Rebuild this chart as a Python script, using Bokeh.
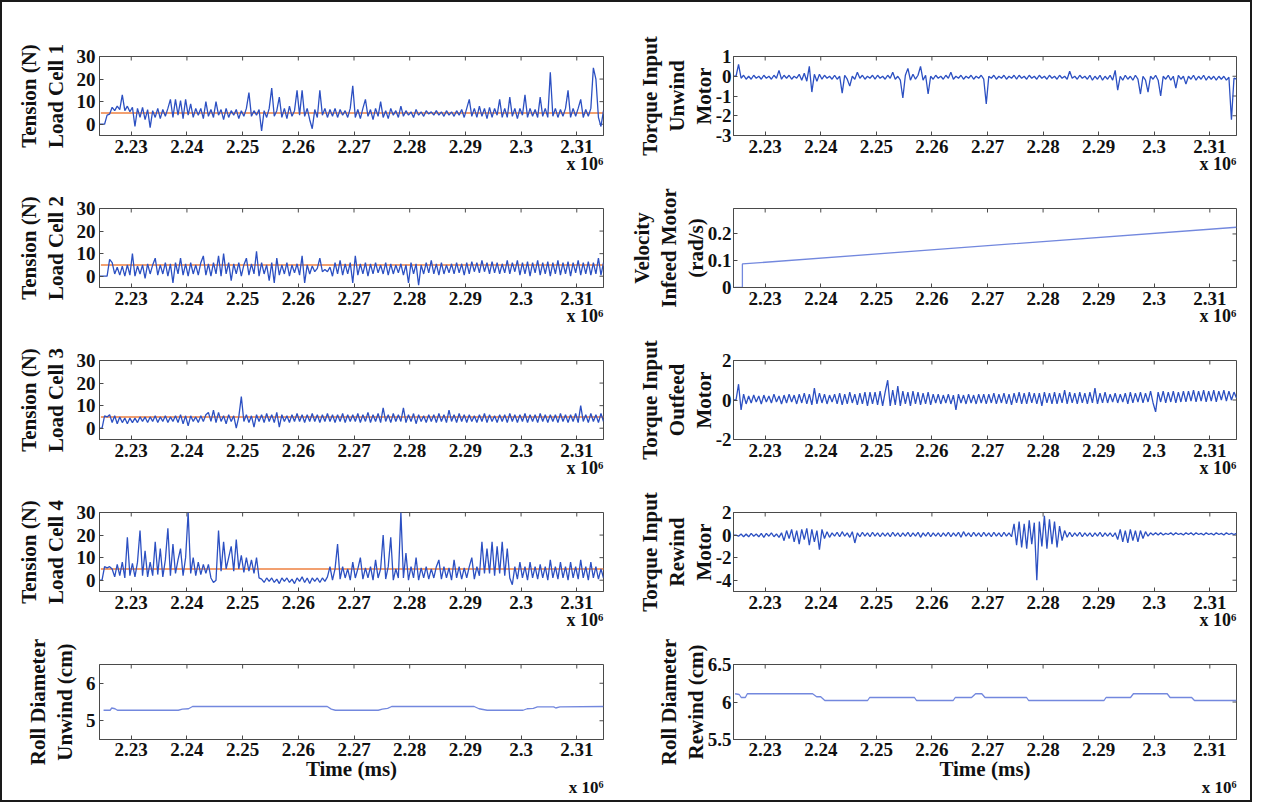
import numpy as np
from bokeh.plotting import figure
from bokeh.layouts import row, column
from bokeh.models import Range1d, FixedTicker, Title
from bokeh.embed import file_html
from bokeh.resources import INLINE

# ---------------- data ----------------
T0, T1 = 2.2243, 2.3148          # time axis limits (x 10^6 ms)
x_ticks = [2.23, 2.24, 2.25, 2.26, 2.27, 2.28, 2.29, 2.30, 2.31]
x_tick_labels = ["2.23", "2.24", "2.25", "2.26", "2.27", "2.28", "2.29", "2.3", "2.31"]

load_cell_1 = [
    0, 0, 0, 4, 4.5, 7.5, 6, 8, 6.5, 13, 6, 8, 5.5, 7.5, -1, 7, 3, 7.5, 2, 6.5,
    -1.5, 6, 3, 7, 2.5, 6.5, 3.5, 7, 11, 3, 11, 4, 10.5, 2.5, 11, 4, 9, 3, 7, 4,
    7, 2.5, 10, 3.5, 6.5, 3, 10, 4, 6.5, 2, 7, 3, 6, 4, 6.5, 2.5, 6, 3.5, 7, 14,
    3.5, 6, 4, 6.5, -3, 6, 3, 7, 16, 3.5, 6, 12, 3, 7, 2.5, 8, 3.5, 6, 15, 4,
    15, 3.5, 7, 2, -2, 6.5, 3, 15, 4, 7, 3, 6.5, 3.5, 7, 3, 6.5, 4, 6, 3, 7,
    17, 3, 6.5, 2.5, 7, 11, 3.5, 6.5, 2, 7, 3.5, 10, 3, 6, 2.5, 7, 4, 6, 3, 8,
    3.5, 6, 4, 5.5, 3, 6.5, 4, 5.5, 3.5, 6, 4.5, 5.5, 4, 6, 4, 5.5, 3.5, 6, 4, 5.5,
    3.5, 6, 4, 6.5, 3, 7, 11, 3.5, 7, 3, 8, 3.5, 7, 2.5, 7.5, 3, 7, 4, 11, 3,
    7, 3, 12, 3.5, 7, 2.5, 7, 4, 13, 3, 7, 3.5, 6.5, 3, 12, 3.5, 7, 3, 23, 3.5,
    7, 3, 6.5, 3.5, 7, 15, 3, 7, 3.5, 7, 11, 3, 6.5, 3.5, 7, 25, 20, 3, -1, 6,
]
load_cell_2 = [
    0, 0, 0, 0, 7.5, 6, 1, 4, 0.5, 4.5, 0, 5, 0.5, 10, 0, 4.5, 1, 5, -1, 5.5,
    1, 5, 8, 0.5, 5, 1, 6, 0, 5.5, -3, 6, 1, 8, 0.5, 5.5, 0, 6, 1, 5, 0.5,
    6, 9, 0.5, 5.5, 0, 6, 1, 9, 0, 10, 1, 6, -2, 5.5, 1, 6, 0, 5, 8, 0.5,
    5.5, 1, 11, 0, 6, 1, 5, -2, 6, -3, 8, 0.5, 5, 1, 6, 0, 5, 1.5, 5.5, 0.5,
    9, -3, 5, 1, 4.5, 2, 3.5, 8, 2, 3, 2, 4, 0, 6, 1, 7, 0.5, 5.5, 1, 6,
    -3, 9, 0.5, 5.5, 1, 6, 0, 5.5, 1, 6, 1.5, 5, 1, 6, 0.5, 5.5, 1, 5, 1.5, 5.5,
    0.5, 5, -3, 6, 1, 5.5, -4, 5, 1, 6, 1.5, 7, 1, 5.5, 0.5, 6, 1, 5, 1.5, 5.5,
    1, 6, 1.5, 5.5, 0.5, 6, 1, 6.5, 2, 6, 1.5, 7, 2, 6, 1, 6.5, 1.5, 6, 1, 5.5,
    1.5, 7, 1, 6, 2, 7, 0.5, 6, 1, 6.5, 0, 6, 1.5, 7, 0.5, 6, 1, 6.5, 0, 6,
    1, 7, 0.5, 6, 1, 6.5, 0, 6, 1.5, 7, 0.5, 6, 1, 6.5, 0.5, 6, 1, 8, 0.5, 6,
]
load_cell_3 = [
    0, 0, 5.5, 5, 6, 2.5, 5.5, 2, 5, 2.5, 4.5, 2, 4.5, 2.5, 4.5, 2.5, 5, 3, 5, 2.5,
    5, 3, 5.5, 2.5, 5, 3, 5.5, 2.5, 5, 3, 5.5, 2.5, 6, 2, 5.5, 1, 5.5, 3, 5, 2.5,
    5.5, 3, 6, 7, 3, 8, 2.5, 7, 3, 5.5, 2, 6, 3, 5.5, 0, 5, 14, 3, 6, 2.5,
    5.5, 0.5, 6, 3, 6, 2.5, 6.5, 3, 6, 2.5, 7, 0.5, 6, 3, 5.5, 2.5, 6, 3, 6.5, 3,
    6, 2.5, 6, 3, 6.5, 3, 6, 2.5, 6, 3, 6.5, 3, 6, 2.5, 6, 3, 6.5, 2.5, 6, 3,
    6, 3, 6.5, 2.5, 6, 3, 7, 2.5, 6, 3, 6.5, 2.5, 9, 3, 6, 2.5, 6.5, 3, 6, 3,
    9, 2.5, 6, 3, 6.5, 2, 6, 3, 5.5, 2.5, 6, 3, 6, 2.5, 6.5, 3, 6, 2.5, 8, 3,
    6, 2.5, 6.5, 3, 6, 2.5, 6, 3, 5.5, 2.5, 6, 3, 6.5, 2.5, 6, 3, 5.5, 2.5, 6, 3,
    6, 2.5, 6.5, 3, 6, 2.5, 6, 3, 6.5, 2.5, 6, 3, 6, 2.5, 6.5, 3, 6, 2.5, 6, 3,
    6, 2.5, 6.5, 3, 6, 2.5, 6, 3, 6.5, 2.5, 10, 3, 6, 2.5, 6.5, 3, 6, 2.5, 6.5, 3,
]
load_cell_4 = [
    0, 0, 6, 5.5, 6, 5, 1.5, 7, 2, 8, 1, 19, 2, 7.5, 1.5, 8, 22, 2, 13, 1.5,
    8, 2, 17, 2.5, 14, 1.5, 9, 23, 2, 16, 3, 9, 14, 2, 10, 30, 3, 10, 2, 8,
    2.5, 7, 3, 7, 1, -1, 0, 22, 4, 17, 5, 10, 15, 4, 18, 5, 11, 3.5, 10, 4,
    9, 3, 10, 1, 0.5, -1, 1, -0.5, 1, -1, 0.5, -1.5, 1, -0.5, 1, -1, 0.5, -1.5, 1, -0.5,
    1.5, -1, 1, -1.5, 1, -0.5, 1, -1, 1, -0.5, 1.5, 6, 0, 5, 16, 0.5, 6, 1, 5, 0,
    8, 1, 5, 10, 0.5, 5.5, 1, 6, 0, 9, 1, 5, 20, 0.5, 6, 19, 0, 5, 1, 30,
    1, 12, 0, 6, 1, 10, 0, 5.5, 1, 6, 0.5, 5, 1, 6, 9, 0.5, 6, 1, 5.5, 0,
    9, 1, 6, 0.5, 5.5, 1, 6, 10, 0.5, 6, 2, 17, 3, 14, 3, 17, 2, 15, 3, 17,
    2, 14, 1, -2, 6, 0.5, 8, 1, 6, 0, 8, 1, 6, 0.5, 7, 1, 6, 0, 9, 1,
    6, 0.5, 8, 1, 6, 0, 8, 1, 6, 0.5, 9, 1, 6, 0, 8, 1, 6, 0.5, 5, 1,
]
tension_setpoint = [5.0, 5.0]
setpoint_t = [2.22455, 2.3148]

torque_unwind = [
    0, 0, 0.6, -0.1, 0.05, -0.15, 0, -0.15, 0.05, -0.1, 0, -0.15, 0.05, -0.1, 0, -0.15, 0.05, -0.1, 0.3, -0.15,
    0.05, -0.1, 0.05, -0.15, 0, -0.1, 0.1, -0.2, 0.15, -0.25, 0.5, -0.8, 0.1, -0.25, 0.1, -0.15, 0.05, -0.1, 0, -0.15,
    0.05, -0.15, 0, -0.85, 0.05, -0.15, -0.5, 0, -0.15, 0.2, -0.1, 0.05, -0.15, 0, -0.1, 0.05, -0.15, 0.05, -0.1, 0,
    -0.15, 0.05, -0.1, 0.2, -0.15, 0, -0.2, -1.1, 0.05, 0.4, -0.2, 0.1, -0.15, 0.05, 0.5, -0.2, 0.05, -0.9, 0, -0.15,
    0.05, -0.1, 0, -0.15, 0.05, -0.1, 0.2, -0.15, 0, -0.1, 0.05, -0.15, 0, -0.1, 0.05, -0.15, 0, -0.1, 0.05, -0.15,
    -1.4, 0, -0.1, 0.05, -0.15, 0, -0.1, 0.05, -0.15, 0, -0.1, 0.05, -0.15, 0.05, -0.1, 0, -0.15, 0.05, -0.1, 0,
    -0.15, 0.05, -0.1, 0, -0.15, 0.05, -0.1, 0, -0.15, 0.05, -0.1, 0, -0.15, 0.25, -0.1, 0, -0.15, 0.05, -0.1, 0,
    -0.15, 0.05, -0.2, 0, -0.15, 0.05, -0.2, 0, -0.15, 0.05, -0.2, 0.3, -0.7, 0, -0.2, 0.05, -0.15, 0, -0.2, 0.05,
    -0.15, -0.9, 0, -0.2, -0.8, 0, -0.15, 0.05, -0.2, -1.0, 0, -0.15, 0.05, -0.2, 0, -0.6, 0.05, -0.15, 0, -0.4,
    0, -0.15, 0.05, -0.2, 0, -0.15, 0.05, -0.2, 0, -0.15, 0, -0.2, 0, -0.15, 0, -0.2, -0.05, -2.2, -0.1, -0.15,
]
velocity_t = [2.2245, 2.2259, 2.2259, 2.3148]
velocity_infeed = [0.0, 0.0, 0.088, 0.225]

torque_outfeed = [
    0, 0, 0.8, -0.5, 0.3, -0.2, 0.2, -0.15, 0.25, -0.1, 0.2, -0.2, 0.25, -0.1, 0.2, -0.15, 0.3, -0.1, 0.2, -0.2,
    0.25, -0.15, 0.3, -0.1, 0.25, -0.2, 0.3, -0.15, 0.35, -0.2, 0.3, -0.25, 0.6, -0.2, 0.35, -0.15, 0.3, -0.2, 0.25, -0.1,
    0.3, -0.2, 0.35, -0.25, 0.3, -0.2, 0.4, -0.15, 0.3, -0.25, 0.35, -0.2, 0.4, -0.3, 0.4, -0.2, 0.4, -0.25, 0.45, -0.3,
    0.4, 1.0, -0.3, 0.5, -0.25, 0.7, -0.3, 0.45, -0.2, 0.4, -0.3, 0.45, -0.2, 0.4, -0.25, 0.35, -0.2, 0.4, -0.25, 0.3,
    -0.15, 0.3, -0.2, 0.25, -0.15, 0.3, -0.2, 0.25, -0.5, 0.3, -0.15, 0.25, -0.2, 0.3, -0.15, 0.25, -0.2, 0.3, -0.15, 0.3,
    -0.2, 0.3, -0.15, 0.35, -0.2, 0.3, -0.15, 0.35, -0.2, 0.3, -0.25, 0.35, -0.15, 0.4, -0.2, 0.35, -0.2, 0.4, -0.15, 0.35,
    -0.2, 0.35, -0.3, 0.4, -0.15, 0.35, -0.2, 0.4, -0.2, 0.35, -0.15, 0.5, -0.2, 0.4, -0.15, 0.35, -0.2, 0.4, -0.15, 0.35,
    -0.2, 0.4, -0.15, 0.6, -0.2, 0.35, -0.15, 0.4, -0.15, 0.3, -0.1, 0.35, -0.15, 0.3, -0.1, 0.35, -0.2, 0.4, -0.15, 0.35,
    -0.1, 0.4, -0.15, 0.35, -0.1, 0.45, -0.15, -0.6, 0.4, -0.1, 0.45, -0.15, 0.4, -0.1, 0.45, -0.15, 0.4, -0.1, 0.45, -0.1,
    0.45, -0.05, 0.5, -0.1, 0.45, -0.05, 0.5, -0.1, 0.45, -0.05, 0.5, -0.1, 0.45, 0, 0.5, -0.05, 0.45, 0, 0.4, 0.1,
]
torque_rewind = [
    0, 0, -0.1, 0.1, -0.15, 0.1, -0.15, 0.15, -0.1, 0.1, -0.15, 0.15, -0.2, 0.15, -0.1, 0.2, -0.15, 0.1, -0.2, 0.2,
    -0.5, 0.4, -0.3, 0.5, -0.6, 0.4, -0.8, 0.5, -0.4, 0.6, -0.9, 0.5, -0.6, 0.4, -1.3, 0.5, -0.3, 0.3, -0.2, 0.2,
    -0.1, 0.25, -0.15, 0.3, -0.1, 0.2, -0.2, 0.3, -0.7, 0.2, -0.15, 0.25, -0.1, 0.2, -0.15, 0.25, -0.1, 0.2, -0.15, 0.2,
    -0.1, 0.2, -0.15, 0.25, -0.1, 0.2, -0.15, 0.2, -0.1, 0.25, -0.15, 0.2, -0.1, 0.25, -0.2, 0.2, -0.1, 0.25, -0.15, 0.2,
    -0.1, 0.2, -0.15, 0.2, -0.1, 0.25, -0.15, 0.2, -0.1, 0.25, -0.2, 0.3, -0.1, 0.2, -0.15, 0.25, -0.1, 0.2, -0.15, 0.25,
    -0.1, 0.2, -0.15, 0.25, -0.1, 0.2, -0.15, 0.25, -0.1, 0.2, -0.15, 1.0, -0.9, 1.2, -1.1, 1.0, -1.2, 1.3, -0.8, 1.1,
    -4.0, 1.2, -1.0, 1.7, -1.2, 1.4, -0.8, 1.2, -1.1, 0.8, -0.5, 0.4, -0.2, 0.25, -0.15, 0.2, -0.1, 0.25, -0.15, 0.2,
    -0.1, 0.2, -0.15, 0.2, -0.1, 0.25, -0.15, 0.2, -0.1, 0.2, -0.15, 0.2, -0.4, 0.5, -0.6, 0.4, -0.7, 0.5, -0.5, 0.4,
    -0.6, 0.4, -0.3, 0.3, -0.1, 0.2, 0, 0.2, 0, 0.2, 0, 0.15, 0.05, 0.2, 0, 0.2, 0.05, 0.15, 0, 0.2,
    0.05, 0.2, 0, 0.2, 0.05, 0.15, 0, 0.2, 0.05, 0.15, 0, 0.2, 0.05, 0.15, 0, 0.2, 0.05, 0.15, 0.05, 0.15,
]

roll_unwind_t = [2.22503, 2.22621, 2.2265, 2.22708, 2.22752, 2.23844, 2.23918, 2.24028, 2.24101,
                 2.26519, 2.26592, 2.26666, 2.27435, 2.27508, 2.27604, 2.27677, 2.29157, 2.29245,
                 2.29392, 2.30036, 2.3011, 2.3022, 2.30293, 2.30586, 2.30623, 2.30696, 2.3148]
roll_unwind = [5.28, 5.28, 5.34, 5.32, 5.28, 5.28, 5.31, 5.32, 5.38,
               5.38, 5.31, 5.28, 5.28, 5.31, 5.33, 5.38, 5.38, 5.32,
               5.28, 5.28, 5.32, 5.33, 5.37, 5.37, 5.34, 5.37, 5.38]
roll_rewind_t = [2.22459, 2.22533, 2.22569, 2.22643, 2.22679, 2.23853, 2.23926, 2.23999, 2.24073,
                 2.24843, 2.2488, 2.25686, 2.25723, 2.26383, 2.2642, 2.26713, 2.26786, 2.26897,
                 2.26955, 2.27703, 2.2774, 2.29097, 2.29133, 2.29573, 2.29625, 2.30233, 2.30285,
                 2.30673, 2.30724, 2.3148]
roll_rewind = [6.11, 6.10, 6.06, 6.06, 6.11, 6.11, 6.07, 6.07, 6.02,
               6.02, 6.06, 6.06, 6.02, 6.02, 6.06, 6.06, 6.11, 6.11,
               6.06, 6.06, 6.02, 6.02, 6.06, 6.06, 6.11, 6.11, 6.06,
               6.06, 6.02, 6.02]

left_labels = ["Tension (N)\nLoad Cell 1", "Tension (N)\nLoad Cell 2", "Tension (N)\nLoad Cell 3",
               "Tension (N)\nLoad Cell 4", "Roll Diameter\nUnwind (cm)"]
right_labels = ["Torque Input\nUnwind\nMotor", "Velocity\nInfeed Motor\n(rad/s)",
                "Torque Input\nOutfeed\nMotor", "Torque Input\nRewind\nMotor",
                "Roll Diameter\nRewind (cm)"]
left_ranges = [(-5, 30), (-5, 30), (-5, 30), (-5, 30), (4.5, 6.5)]
right_ranges = [(-3, 1), (0, 0.295), (-2, 2), (-5, 2), (5.5, 6.5)]
left_ticks = [[0, 10, 20, 30]] * 4 + [[5, 6]]
left_tick_labels = [["0", "10", "20", "30"]] * 4 + [["5", "6"]]
right_ticks = [[-3, -2, -1, 0, 1], [0, 0.1, 0.2], [-2, 0, 2], [-4, -2, 0, 2], [5.5, 6, 6.5]]
right_tick_labels = [["-3", "-2", "-1", "0", "1"], ["0", "0.1", "0.2"], ["-2", "0", "2"],
                     ["-4", "-2", "0", "2"], ["5.5", "6", "6.5"]]
x_label = "Time (ms)"
x_scale_label = "x 10\u2076"

# ---------------- style ----------------
FONT = "Liberation Serif"
TXT = "#111111"
FRAME = "#4a4a4a"
BLUE = "#2c50c2"
LIGHT = "#7388de"
REF = "#f2a070"
FRAME_HS = [79, 79, 79, 79, 75]
ROW_TOP = [54, 31, 31, 31, 31]
ROW_BOT = [42, 42, 42, 42, 61]
LEFT_W, LEFT_BL, LEFT_BR = 621, 97, 20
RIGHT_W, RIGHT_BL, RIGHT_BR = 627, 110, 14


def style_axis(ax, ticks, labels, fs="19px"):
    ax.ticker = FixedTicker(ticks=ticks)
    ax.major_label_overrides = {t: s for t, s in zip(ticks, labels)}
    ax.major_label_text_font = FONT
    ax.major_label_text_font_style = "bold"
    ax.major_label_text_font_size = fs
    ax.major_label_text_color = TXT
    ax.major_tick_in = 4
    ax.major_tick_out = 0
    ax.minor_tick_line_color = None
    ax.major_tick_line_color = FRAME
    ax.axis_line_color = FRAME


def make_panel(col, r, ylabel, yrng, yt, ytl):
    left = col == 0
    w, bl, br = (LEFT_W, LEFT_BL, LEFT_BR) if left else (RIGHT_W, RIGHT_BL, RIGHT_BR)
    fh = FRAME_HS[r]
    p = figure(width=w, height=ROW_TOP[r] + fh + ROW_BOT[r],
               x_range=Range1d(T0, T1), y_range=Range1d(*yrng),
               output_backend="svg", toolbar_location=None,
               min_border_left=bl, min_border_right=br,
               min_border_top=ROW_TOP[r], min_border_bottom=ROW_BOT[r])
    p.xgrid.visible = False
    p.ygrid.visible = False
    p.outline_line_color = FRAME
    p.background_fill_color = "white"
    p.border_fill_color = "white"

    xa = p.below[0]
    style_axis(xa, x_ticks, x_tick_labels)
    xa.major_label_standoff = 4
    ya = p.left[0]
    style_axis(ya, yt, ytl)
    ya.major_label_standoff = 4 if left else 2
    ya.axis_label = ylabel
    ya.axis_label_text_font = FONT
    ya.axis_label_text_font_style = "bold"
    ya.axis_label_text_font_size = "21px"
    ya.axis_label_text_color = TXT
    ya.axis_label_text_line_height = 1.12
    ya.axis_label_standoff = 6 if left else -3

    if r == 4:
        xa.major_label_standoff = 3
        xa.axis_label = x_label
        xa.axis_label_text_font = FONT
        xa.axis_label_text_font_style = "bold"
        xa.axis_label_text_font_size = "21px"
        xa.axis_label_text_color = TXT
        xa.axis_label_standoff = -2
        sd, fs = -26, "17px"
    else:
        sd, fs = -8, "18px"
    p.add_layout(Title(text=x_scale_label, align="right", text_font=FONT,
                       text_font_style="bold", text_font_size=fs,
                       text_color=TXT, standoff=sd), "below")

    # mirrored tick marks on the top and right edges of the box
    y0, y1 = yrng
    fw = w - bl - br
    dy = 4 / fh * (y1 - y0)
    dx = 4 / fw * (T1 - T0)
    p.segment(x0=x_ticks, y0=[y1] * len(x_ticks), x1=x_ticks, y1=[y1 - dy] * len(x_ticks),
              line_color=FRAME, line_width=1)
    p.segment(x0=[T1] * len(yt), y0=yt, x1=[T1 - dx] * len(yt), y1=yt,
              line_color=FRAME, line_width=1)
    return p


def tgrid(vals):
    return np.linspace(T0, T1, len(vals))


lefts, rights = [], []
for r in range(5):
    lefts.append(make_panel(0, r, left_labels[r], left_ranges[r], left_ticks[r], left_tick_labels[r]))
    rights.append(make_panel(1, r, right_labels[r], right_ranges[r], right_ticks[r], right_tick_labels[r]))

NW = 1.3
for p, vals in zip(lefts[:4], [load_cell_1, load_cell_2, load_cell_3, load_cell_4]):
    p.line(setpoint_t, tension_setpoint, line_color=REF, line_width=2)
    p.line(tgrid(vals), vals, line_color=BLUE, line_width=NW)

lefts[4].line(roll_unwind_t, roll_unwind, line_color=LIGHT, line_width=1.3)
rights[0].line(tgrid(torque_unwind), torque_unwind, line_color=BLUE, line_width=NW)
rights[1].line(velocity_t, velocity_infeed, line_color=LIGHT, line_width=1.3)
rights[2].line(tgrid(torque_outfeed), torque_outfeed, line_color=BLUE, line_width=NW)
rights[3].line(tgrid(torque_rewind), torque_rewind, line_color=BLUE, line_width=NW)
rights[4].line(roll_rewind_t, roll_rewind, line_color=LIGHT, line_width=1.3)

layout = column(*[row(lefts[i], rights[i]) for i in range(5)],
                styles={"border": "2px solid #1a1a1a", "background-color": "white"})

open("out.html", "w").write(file_html(layout, INLINE, title="Tension and torque"))
